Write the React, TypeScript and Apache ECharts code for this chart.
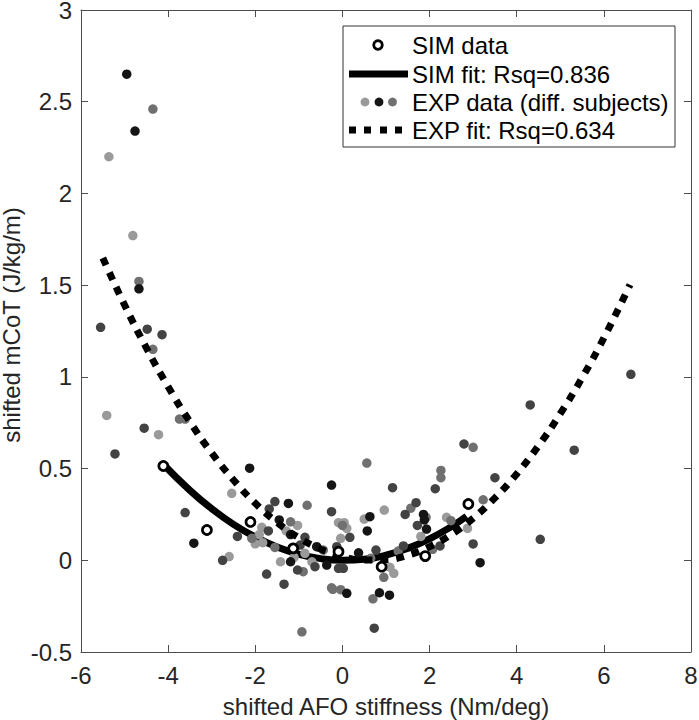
import React, { useEffect, useRef } from "react";
import * as echarts from "echarts";

// ---- data ----
const xAxisMin = -6;
const xAxisMax = 8;
const xAxisStep = 2;
const yAxisMin = -0.5;
const yAxisMax = 3;
const yAxisStep = 0.5;

const xTitle = "shifted AFO stiffness (Nm/deg)";
const yTitle = "shifted mCoT (J/kg/m)";

const legendLabels = [
  "SIM data",
  "SIM fit: Rsq=0.836",
  "EXP data (diff. subjects)",
  "EXP fit: Rsq=0.634",
];

const simData: [number, number][] = [
  [-4.11, 0.514], [-3.11, 0.165], [-2.11, 0.209], [-1.13, 0.065],
  [-0.09, 0.047], [0.9, -0.035], [1.9, 0.023], [2.89, 0.307],
];

const simFit: [number, number][] = [
  [-4.1, 0.521], [-3.5, 0.381], [-3.0, 0.281], [-2.5, 0.196], [-2.0, 0.127],
  [-1.5, 0.072], [-1.0, 0.033], [-0.5, 0.009], [0.0, 0.0], [0.5, 0.006],
  [1.0, 0.028], [1.5, 0.065], [2.0, 0.117], [2.5, 0.184], [2.85, 0.24],
];

const expFit: [number, number][] = [
  [-5.5, 1.648], [-5.0, 1.392], [-4.5, 1.158], [-4.0, 0.946], [-3.5, 0.755],
  [-3.0, 0.585], [-2.5, 0.438], [-2.0, 0.311], [-1.5, 0.206], [-1.0, 0.123],
  [-0.5, 0.061], [0.0, 0.02], [0.5, 0.002], [1.0, 0.004], [1.5, 0.028],
  [2.0, 0.074], [2.5, 0.141], [3.0, 0.229], [3.5, 0.34], [4.0, 0.471],
  [4.5, 0.624], [5.0, 0.799], [5.5, 0.995], [6.0, 1.212], [6.6, 1.502],
];

const expLight: [number, number][] = [
  [-5.36, 2.2], [-4.81, 1.77], [-5.41, 0.79], [-4.22, 0.685], [-2.54, 0.365],
  [-1.03, 0.19], [-1.85, 0.18], [-1.29, 0.16], [-1.91, 0.14], [-2.0, 0.09],
  [-1.83, 0.096], [-0.09, 0.205], [-0.04, 0.12], [-1.11, 0.016], [-0.7, -0.008],
  [-0.86, 0.038], [-1.42, -0.008], [-2.6, 0.02], [0.5, 0.225], [0.1, 0.174],
  [0.04, 0.205], [2.39, 0.234], [1.8, 0.13], [2.87, 0.174], [1.09, -0.038],
  [1.18, -0.071], [0.96, 0.274],
];

const expMid: [number, number][] = [
  [-4.35, 2.46], [-4.67, 1.52], [-4.35, 1.15], [-3.74, 0.77], [-3.61, 0.77],
  [-0.81, 0.3], [-1.19, 0.21], [-2.08, 0.12], [-1.55, 0.07], [-0.44, 0.056],
  [-0.9, -0.062], [-0.25, -0.15], [-0.04, -0.16], [-0.93, -0.39], [0.0, 0.19],
  [0.56, 0.53], [3.0, 0.616], [2.26, 0.49], [2.26, 0.45], [1.57, 0.284],
  [1.92, 0.234], [2.49, 0.216], [0.65, 0.011], [1.28, 0.05], [2.07, 0.06],
  [0.95, -0.093], [0.7, -0.21], [3.23, 0.33], [-0.22, -0.158],
];

const expDark: [number, number][] = [
  [-5.55, 1.27], [-4.48, 1.26], [-4.14, 1.23], [-5.22, 0.58], [-4.55, 0.72],
  [-3.61, 0.26], [-1.55, 0.32], [-1.68, 0.28], [-0.25, 0.265], [-1.7, 0.16],
  [-2.41, 0.13], [-0.86, 0.125], [-0.97, 0.083], [-0.13, 0.074], [-1.03, -0.053],
  [-0.63, -0.035], [-0.09, -0.044], [-1.74, -0.075], [-1.34, -0.13], [-2.75, 0.0],
  [0.73, -0.37], [2.79, 0.634], [1.15, 0.396], [1.69, 0.314], [1.44, 0.25],
  [1.72, 0.19], [0.17, 0.125], [3.0, 0.089], [0.77, 0.056], [1.4, 0.078],
  [2.24, 0.078], [0.02, -0.044], [6.62, 1.014], [4.31, 0.847], [5.32, 0.6],
  [4.54, 0.114], [3.5, 0.45], [2.13, 0.39],
];

const expBlack: [number, number][] = [
  [-4.95, 2.65], [-4.76, 2.34], [-4.67, 1.48], [-3.41, 0.093], [-2.13, 0.502],
  [-1.24, 0.31], [-0.25, 0.41], [-1.45, 0.22], [-1.19, 0.14], [-0.59, 0.074],
  [-1.19, -0.008], [-0.36, -0.026], [0.1, -0.18], [0.63, 0.238], [0.57, 0.16],
  [0.85, -0.177], [1.08, -0.19], [1.86, 0.25], [1.93, 0.17], [0.37, 0.041],
  [3.16, -0.013], [1.88, 0.22],
];

const FONT = "'Liberation Sans', Arial, Helvetica, sans-serif";
const AXIS_COLOR = "#4d4d4d";
const TEXT_COLOR = "#262626";

function axisCommon(show: boolean, margin: number, lineHeight: number) {
  return {
    axisLine: { show: true, onZero: false, lineStyle: { color: AXIS_COLOR, width: 1 } },
    axisTick: { show: true, inside: true, length: 7, lineStyle: { color: AXIS_COLOR, width: 1 } },
    splitLine: { show: false },
    axisLabel: {
      show,
      color: TEXT_COLOR,
      fontSize: 24,
      lineHeight,
      fontFamily: FONT,
      margin,
    },
  };
}

export default function App() {
  const ref = useRef<HTMLDivElement>(null);

  useEffect(() => {
    if (!ref.current) return;
    const chart = echarts.init(ref.current, undefined, { renderer: "svg" });

    const lx = 343;
    const ly = 26;
    const lw = 332;
    const lh = 121;
    const rowY = [45, 74, 102, 130];
    const textX = 412;

    const legendGraphics: any[] = [
      {
        type: "rect",
        shape: { x: lx, y: ly, width: lw, height: lh },
        style: { fill: "#fff", stroke: "#333", lineWidth: 1 },
        z: 100,
      },
      {
        type: "circle",
        shape: { cx: 378, cy: rowY[0], r: 4.3 },
        style: { fill: "#fff", stroke: "#000", lineWidth: 2.8 },
        z: 101,
      },
      {
        type: "line",
        shape: { x1: 349, y1: rowY[1], x2: 408, y2: rowY[1] },
        style: { stroke: "#000", lineWidth: 7 },
        z: 101,
      },
      { type: "circle", shape: { cx: 365, cy: rowY[2], r: 4.4 }, style: { fill: "#9a9a9a" }, z: 101 },
      { type: "circle", shape: { cx: 379, cy: rowY[2], r: 4.4 }, style: { fill: "#151515" }, z: 101 },
      { type: "circle", shape: { cx: 392.5, cy: rowY[2], r: 4.4 }, style: { fill: "#707070" }, z: 101 },
    ];
    [349, 364, 380, 395].forEach((sx) => {
      legendGraphics.push({
        type: "rect",
        shape: { x: sx, y: rowY[3] - 3.5, width: 7, height: 7 },
        style: { fill: "#000" },
        z: 101,
      });
    });
    legendLabels.forEach((t, i) => {
      legendGraphics.push({
        type: "text",
        x: textX,
        y: rowY[i],
        style: {
          text: t,
          fill: "#000",
          font: `24px ${FONT}`,
          verticalAlign: "middle",
        },
        z: 101,
      });
    });

    const scatterStyle = (color: string) => ({
      type: "scatter",
      symbol: "circle",
      symbolSize: 9.5,
      itemStyle: { color, opacity: 1 },
      z: 3,
      silent: true,
    });

    chart.setOption({
      animation: false,
      backgroundColor: "#fff",
      grid: {
        left: 81,
        right: 8,
        top: 10,
        bottom: 68,
        containLabel: false,
        outerBoundsMode: "none",
      },
      xAxis: [
        {
          type: "value",
          min: xAxisMin,
          max: xAxisMax,
          interval: xAxisStep,
          position: "bottom",
          name: xTitle,
          nameLocation: "middle",
          nameGap: 42,
          nameMoveOverlap: false,
          nameTextStyle: { color: TEXT_COLOR, fontSize: 24, fontFamily: FONT },
          ...axisCommon(true, 12, 22),
        },
        {
          type: "value",
          min: xAxisMin,
          max: xAxisMax,
          interval: xAxisStep,
          position: "top",
          ...axisCommon(false, 8, 20),
        },
      ],
      yAxis: [
        {
          type: "value",
          min: yAxisMin,
          max: yAxisMax,
          interval: yAxisStep,
          position: "left",
          name: yTitle,
          nameLocation: "middle",
          nameGap: 59,
          nameMoveOverlap: false,
          nameTextStyle: {
            color: TEXT_COLOR,
            fontSize: 24,
            lineHeight: 22,
            fontFamily: FONT,
            padding: [0, 0, 0, 12],
          },
          ...axisCommon(true, 9, 17),
        },
        {
          type: "value",
          min: yAxisMin,
          max: yAxisMax,
          interval: yAxisStep,
          position: "right",
          ...axisCommon(false, 8, 17),
        },
      ],
      series: [
        {
          name: legendLabels[1],
          type: "line",
          data: simFit,
          smooth: true,
          showSymbol: false,
          symbol: "none",
          lineStyle: { color: "#000", width: 7 },
          z: 2,
          silent: true,
        },
        { name: "exp-light", data: expLight, ...scatterStyle("#9a9a9a") },
        { name: "exp-mid", data: expMid, ...scatterStyle("#707070") },
        { name: "exp-dark", data: expDark, ...scatterStyle("#434343") },
        { name: "exp-black", data: expBlack, ...scatterStyle("#151515") },
        {
          name: legendLabels[3],
          type: "line",
          data: expFit,
          smooth: true,
          showSymbol: false,
          symbol: "none",
          lineStyle: { color: "#000", width: 7, type: [8, 8], cap: "butt" },
          z: 4,
          silent: true,
        },
        {
          name: legendLabels[0],
          type: "scatter",
          data: simData,
          symbol: "circle",
          symbolSize: 9,
          itemStyle: { color: "#fff", borderColor: "#000", borderWidth: 2.7, opacity: 1 },
          z: 5,
          silent: true,
        },
      ],
      graphic: legendGraphics,
    });

    return () => chart.dispose();
  }, []);

  return (
    <div
      ref={ref}
      style={{ position: "fixed", left: 0, top: 0, width: 699, height: 720, background: "#fff" }}
    />
  );
}
